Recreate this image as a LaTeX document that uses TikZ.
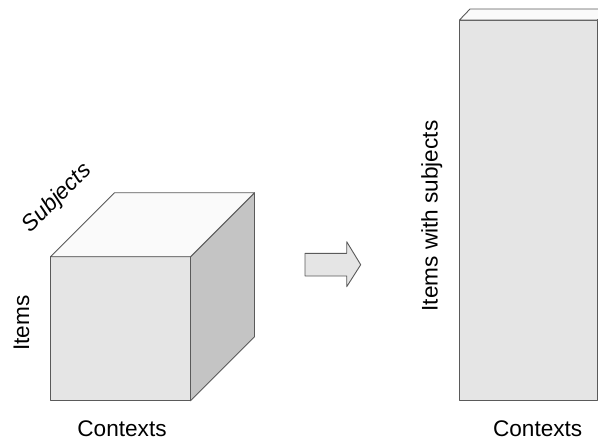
\documentclass[tikz,border=0pt]{standalone}
\usepackage{fontspec}
\setmainfont{Liberation Sans}
\usetikzlibrary{positioning}
\definecolor{frontgray}{HTML}{E5E5E5}
\definecolor{sidegray}{HTML}{C4C4C4}
\definecolor{topgray}{HTML}{FAFAFA}
\definecolor{edgegray}{HTML}{5A5A5A}
\tikzset{
	face/.style={draw=edgegray, line width=0.9pt, line join=round},
	axislabel/.style={inner sep=0pt, font=\fontsize{22.6}{27}\selectfont},
}

\begin{document}
\begin{tikzpicture}[x=1pt, y=-1pt]
		
		\clip (0,0) rectangle (598,439);
		\useasboundingbox (0,0) rectangle (598,439);
		
		% cube
		\coordinate (fTL) at (50.5,256.7);
		\coordinate (fTR) at (190.5,256.7);
		\coordinate (fBR) at (190.5,400.7);
		\coordinate (fBL) at (50.5,400.7);
		\coordinate (bTL) at (114.5,192.7);
		\coordinate (bTR) at (254.5,192.7);
		\coordinate (bBR) at (254.5,336.7);
		
		\draw [face, fill=frontgray] (fTL) -- (fTR) -- (fBR) -- (fBL) -- cycle;
		\draw [face, fill=sidegray] (fTR) -- (bTR) -- (bBR) -- (fBR) -- cycle;
		\draw [face, fill=topgray] (fTL) -- (bTL) -- (bTR) -- (fTR) -- cycle;
		
		\node (items) [axislabel, rotate=90, anchor=base] at (29,323) {Items};
		\node (subjects) [axislabel, rotate=45, font=\fontsize{22.6}{27}\selectfont\itshape] at (57.5,198.5) {Subjects};
		\node (ctxcube) [axislabel, text depth=0pt, anchor=base] at (122,436) {Contexts};
		
		% arrow
		\draw [face, fill=frontgray] (305,253.3) -- (346.7,253.3) -- (346.7,241.7) -- (360.7,264.7)
			-- (346.7,286.7) -- (346.7,276) -- (305,276) -- cycle;
		
		% flattened matrix
		\coordinate (mTL) at (459.5,20);
		\coordinate (mTR) at (597.3,20);
		\coordinate (mBR) at (597.3,400.7);
		\coordinate (mBL) at (459.5,400.7);
		
		\draw [face, fill=frontgray] (mTL) -- (mTR) -- (mBR) -- (mBL) -- cycle;
		\draw [face, fill=topgray] (mTL) -- (470,9) -- (610,9) -- (mTR) -- cycle;
		
		\node (itemssubj) [axislabel, rotate=90, anchor=base] at (437.5,216) {Items with subjects};
		\node (ctxmatrix) [axislabel, text depth=0pt, anchor=base] at (537.7,436) {Contexts};
		
	\end{tikzpicture}
\end{document}
